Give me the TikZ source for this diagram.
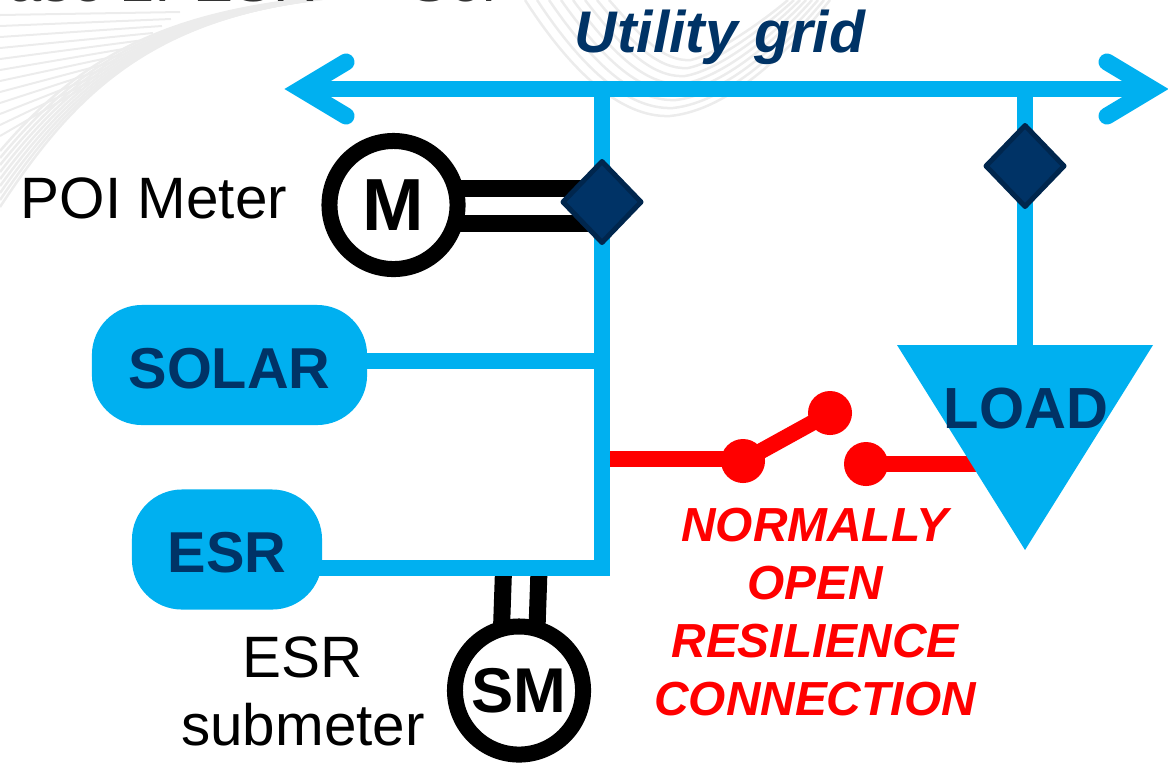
\documentclass[tikz,border=0pt]{standalone}
\usepackage{fontspec}
\setmainfont{Liberation Sans}
\usetikzlibrary{shapes.geometric,calc}
\definecolor{gridblue}{RGB}{0,176,240}
\definecolor{navyblue}{RGB}{0,51,102}
\definecolor{navyedge}{RGB}{0,38,77}
\definecolor{swirlgray}{RGB}{236,236,236}

\tikzset{
  busline/.style={gridblue,line width=0.16cm},
  barb/.style={gridblue,line width=0.17cm,line cap=round,miter limit=10},
  redline/.style={red,line width=0.16cm},
  meterlink/.style={black,line width=0.17cm},
  swirl/.style={swirlgray,line width=0.025cm},
  meter/.style={circle,draw=black,fill=white,line width=0.16cm,minimum size=1.28cm,inner sep=0pt,font=\fontsize{#1}{#1}\selectfont\bfseries},
  source/.style={fill=gridblue,text=navyblue,rounded corners=0.5cm,minimum height=1.2cm,inner sep=0pt,text height=0.46cm,text depth=0pt,font=\fontsize{16.4}{20}\selectfont\bfseries},
  breaker/.style={diamond,draw=navyedge,fill=navyblue,line width=0.05cm,line join=round,minimum width=0.8cm,minimum height=0.83cm,inner sep=0pt},
  contact/.style={circle,fill=red,minimum size=0.44cm,inner sep=0pt},
  plainlabel/.style={align=center,font=\fontsize{16.6}{19.4}\selectfont},
}

\begin{document}
\begin{tikzpicture}[x=0.01cm,y=-0.01cm]
        \useasboundingbox (0,0) rectangle (1168,763);

        % Watermark swirls and the cut off title
        \begin{scope}
            \clip (0,0) rectangle (1168,763);
            \foreach \i in {0,...,8} {
                \draw[swirl] (0,{207-\i*7}) .. controls ({70+\i*1},{100-\i*5}) and ({140+\i*3},{30-\i*3}) .. ({290+\i*8},{3-\i});
            }
            \foreach \i in {0,...,11} {
                \draw[swirl,line width=0.02cm] (0,{15+\i*11}) -- ({180-\i*9},{12+\i*7});
            }
            \foreach \i in {0,...,7} {
                \draw[swirl] ({525+\i*12},0) .. controls ({570+\i*10},{70-\i*5}) and ({620+\i*6},{118-\i*8}) .. ({670+\i*3},{116-\i*8}) .. controls ({730-\i*2},{110-\i*8}) and ({790-\i*4},{50-\i*4}) .. ({830-\i*6},0);
            }
            \node[anchor=base west,inner sep=0pt,text=black!80,font=\fontsize{17}{20}\selectfont] (title) at (8,1.5) {ase 2: ESR — Sol};
        \end{scope}

        % Tap points
        \coordinate (busW) at (301,89);
        \coordinate (busE) at (1152,89);
        \coordinate (mainTop) at (602,89);
        \coordinate (mainEnd) at (602,576);
        \coordinate (solarTap) at (602,361);
        \coordinate (esrTap) at (610,568);
        \coordinate (loadTop) at (1025,89);
        \coordinate (loadEnd) at (1025,350);
        \coordinate (poi) at (602,202);
        \coordinate (swTap) at (610,459);
        \coordinate (loadTap) at (985,464);

        % Meters
        \node[meter=21] (M) at (393.5,205) {M};
        \node[meter=18] (SM) at (519,690.5) {SM};
        \draw[meterlink] ($(M.center)+(62,-17)$) -- ($(poi)+(0,-14)$);
        \draw[meterlink] ($(M.center)+(62,18)$) -- ($(poi)+(0,21)$);
        \draw[meterlink] (503.5,570) -- ($(SM.center)+(-17.5,-62)$);
        \draw[meterlink] (539,570) -- ($(SM.center)+(18,-62)$);

        % Bus with both arrow heads
        \draw[busline] (busW) -- (busE);
        \draw[barb] (346,62) -- (busW) -- (346,116);
        \draw[barb] (1107,62) -- (busE) -- (1107,116);
        \draw[busline] (mainTop) -- (mainEnd);
        \draw[busline] (loadTop) -- (loadEnd);

        % Sources
        \node[source,minimum width=2.75cm] (SOLAR) at (229.5,365) {SOLAR};
        \node[source,minimum width=1.9cm] (ESR) at (227,549.5) {ESR};
        \draw[busline] ($(SOLAR.east |- solarTap)+(-4,0)$) -- (solarTap);
        \draw[busline] ($(ESR.east |- esrTap)+(-4,0)$) -- (esrTap);

        % Breakers
        \node[breaker] (poiBreaker) at (poi) {};
        \node[breaker] (loadBreaker) at (1025,166) {};

        % Resilience switch
        \node[contact] (sw1) at (743,461) {};
        \node[contact] (sw2) at (830,413) {};
        \node[contact] (sw3) at (866,464) {};
        \draw[redline] (swTap) -- (sw1.center |- swTap);
        \draw[redline] (sw1.center) -- (sw2.center);
        \draw[redline] (sw3.center) -- (loadTap);

        % Load
        \fill[gridblue] (897,345) -- (1153,345) -- (1025,550) -- cycle;
        \node[text=navyblue,inner sep=0pt,font=\fontsize{16.5}{20}\selectfont\bfseries] (LOAD) at (1026,409) {LOAD};

        % Labels
        \node[text=navyblue,inner sep=0pt,font=\fontsize{16.7}{20}\selectfont\bfseries\itshape] (grid) at (720,37) {Utility grid};
        \node[plainlabel,inner sep=0pt] (poiLabel) at (154,198) {POI Meter};
        \node[plainlabel,inner sep=0pt] (esrLabel) at (303,691) {ESR\\submeter};
        \node[text=red,align=center,inner sep=0pt,font=\fontsize{13.6}{16.4}\selectfont\bfseries\itshape] (note) at (815,612) {NORMALLY\\OPEN\\RESILIENCE\\CONNECTION};
    \end{tikzpicture}
\end{document}
